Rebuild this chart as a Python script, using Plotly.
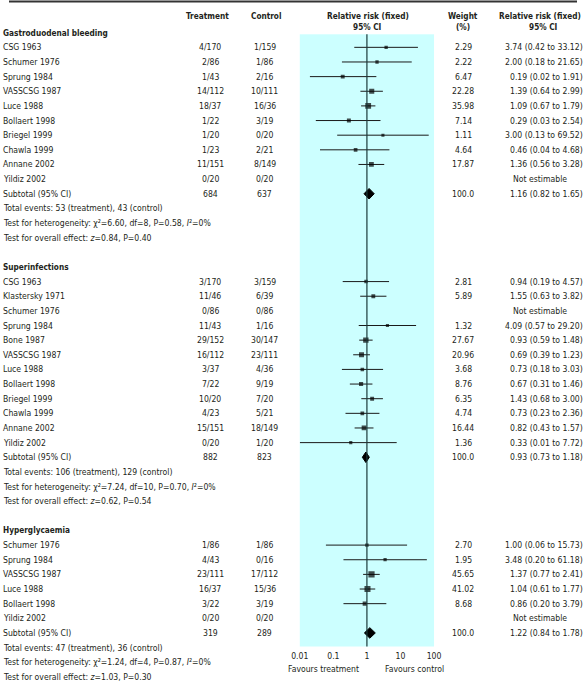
import plotly.graph_objects as go
import math

# ---------------- data ----------------
sections = ["Gastroduodenal bleeding", "Superinfections", "Hyperglycaemia"]

g_studies = ["CSG 1963", "Schumer 1976", "Sprung 1984", "VASSCSG 1987", "Luce 1988", "Bollaert 1998",
             "Briegel 1999", "Chawla 1999", "Annane 2002", "Yildiz 2002"]
g_treat = ["4/170", "2/86", "1/43", "14/112", "18/37", "1/22", "1/20", "1/23", "11/151", "0/20"]
g_ctrl = ["1/159", "1/86", "2/16", "10/111", "16/36", "3/19", "0/20", "2/21", "8/149", "0/20"]
g_weight = [2.29, 2.22, 6.47, 22.28, 35.98, 7.14, 1.11, 4.64, 17.87, None]
g_rr = [3.74, 2.00, 0.19, 1.39, 1.09, 0.29, 3.00, 0.46, 1.36, None]
g_lo = [0.42, 0.18, 0.02, 0.64, 0.67, 0.03, 0.13, 0.04, 0.56, None]
g_hi = [33.12, 21.65, 1.91, 2.99, 1.79, 2.54, 69.52, 4.68, 3.28, None]
g_sub = {"treat": "684", "ctrl": "637", "weight": "100.0", "rr": 1.16, "lo": 0.82, "hi": 1.65}
g_notes = ["Total events: 53 (treatment), 43 (control)",
           "Test for heterogeneity: χ²=6.60, df=8, P=0.58, <i>I</i>²=0%",
           "Test for overall effect: <i>z</i>=0.84, P=0.40"]

s_studies = ["CSG 1963", "Klastersky 1971", "Schumer 1976", "Sprung 1984", "Bone 1987", "VASSCSG 1987",
             "Luce 1988", "Bollaert 1998", "Briegel 1999", "Chawla 1999", "Annane 2002", "Yildiz 2002"]
s_treat = ["3/170", "11/46", "0/86", "11/43", "29/152", "16/112", "3/37", "7/22", "10/20", "4/23", "15/151", "0/20"]
s_ctrl = ["3/159", "6/39", "0/86", "1/16", "30/147", "23/111", "4/36", "9/19", "7/20", "5/21", "18/149", "1/20"]
s_weight = [2.81, 5.89, None, 1.32, 27.67, 20.96, 3.68, 8.76, 6.35, 4.74, 16.44, 1.36]
s_rr = [0.94, 1.55, None, 4.09, 0.93, 0.69, 0.73, 0.67, 1.43, 0.73, 0.82, 0.33]
s_lo = [0.19, 0.63, None, 0.57, 0.59, 0.39, 0.18, 0.31, 0.68, 0.23, 0.43, 0.01]
s_hi = [4.57, 3.82, None, 29.20, 1.48, 1.23, 3.03, 1.46, 3.00, 2.36, 1.57, 7.72]
s_sub = {"treat": "882", "ctrl": "823", "weight": "100.0", "rr": 0.93, "lo": 0.73, "hi": 1.18}
s_notes = ["Total events: 106 (treatment), 129 (control)",
           "Test for heterogeneity: χ²=7.24, df=10, P=0.70, <i>I</i>²=0%",
           "Test for overall effect: <i>z</i>=0.62, P=0.54"]

h_studies = ["Schumer 1976", "Sprung 1984", "VASSCSG 1987", "Luce 1988", "Bollaert 1998", "Yildiz 2002"]
h_treat = ["1/86", "4/43", "23/111", "16/37", "3/22", "0/20"]
h_ctrl = ["1/86", "0/16", "17/112", "15/36", "3/19", "0/20"]
h_weight = [2.70, 1.95, 45.65, 41.02, 8.68, None]
h_rr = [1.00, 3.48, 1.37, 1.04, 0.86, None]
h_lo = [0.06, 0.20, 0.77, 0.61, 0.20, None]
h_hi = [15.73, 61.18, 2.41, 1.77, 3.79, None]
h_sub = {"treat": "319", "ctrl": "289", "weight": "100.0", "rr": 1.22, "lo": 0.84, "hi": 1.78}
h_notes = ["Total events: 47 (treatment), 36 (control)",
           "Test for heterogeneity: χ²=1.24, df=4, P=0.87, <i>I</i>²=0%",
           "Test for overall effect: <i>z</i>=1.03, P=0.30"]

tick_vals = [0.01, 0.1, 1, 10, 100]
tick_text = ["0.01", "0.1", "1", "10", "100"]

# ---------------- layout constants ----------------
W, H = 584, 684
FONT = "DejaVu Sans Condensed, Liberation Sans Narrow, sans-serif"
TXT = "#231f20"
FS = 8.6
FS_HEAD = 8.2
Y0, DY = 32.7, 14.64           # pixel y of row 0 and row spacing
PANEL_TOP, PANEL_BOT = 34.3, 646.5
PLOT_L, PLOT_R = 299, 437
X_STUDY, X_TREAT, X_CTRL, X_WEIGHT, X_RR_R, X_RR_C = -7, 207, 263, 467, 591, 546


def row_px(r):
    return Y0 + r * DY


def px_to_paper_y(p):
    return 1 - p / H


annotations = []


def txt(text, xpx, r, anchor="center", bold=False, ypx=None, size=FS):
    yy = row_px(r) if ypx is None else ypx
    annotations.append(dict(
        text=("<b>%s</b>" % text) if bold else text,
        x=xpx / W, y=px_to_paper_y(yy), xref="paper", yref="paper",
        xanchor=anchor, yanchor="middle", showarrow=False, borderpad=0,
        font=dict(family=FONT, size=size, color=TXT)))


# headers
txt("Treatment", 204, None, bold=True, ypx=16, size=FS_HEAD)
txt("Control", 264, None, bold=True, ypx=16, size=FS_HEAD)
txt("Relative risk (fixed)", 369, None, bold=True, ypx=16, size=FS_HEAD)
txt("95% CI", 369, None, bold=True, ypx=27, size=FS_HEAD)
txt("Weight", X_WEIGHT, None, bold=True, ypx=16, size=FS_HEAD)
txt("(%)", X_WEIGHT, None, bold=True, ypx=27, size=FS_HEAD)
txt("Relative risk (fixed)", 546, None, bold=True, ypx=16, size=FS_HEAD)
txt("95% CI", 550, None, bold=True, ypx=27, size=FS_HEAD)

groups = [
    (sections[0], g_studies, g_treat, g_ctrl, g_weight, g_rr, g_lo, g_hi, g_sub, g_notes),
    (sections[1], s_studies, s_treat, s_ctrl, s_weight, s_rr, s_lo, s_hi, s_sub, s_notes),
    (sections[2], h_studies, h_treat, h_ctrl, h_weight, h_rr, h_lo, h_hi, h_sub, h_notes),
]

ci_x, ci_y = [], []
pt_x, pt_y, pt_s = [], [], []
diamonds = []

r = 0
for (name, studies, treat, ctrl, weight, rr, lo, hi, sub, notes) in groups:
    txt(name, X_STUDY, r, anchor="left", bold=True, size=FS_HEAD)
    r += 1
    for i, s in enumerate(studies):
        txt(s, X_STUDY, r, anchor="left")
        txt(treat[i], X_TREAT, r)
        txt(ctrl[i], X_CTRL, r)
        if rr[i] is None:
            txt("Not estimable", X_RR_C, r)
        else:
            txt("%.2f" % weight[i], X_WEIGHT, r)
            txt("%.2f (%.2f to %.2f)" % (rr[i], lo[i], hi[i]), X_RR_R, r, anchor="right")
            ci_x += [lo[i], hi[i], None]
            ci_y += [r, r, None]
            pt_x.append(rr[i])
            pt_y.append(r)
            pt_s.append(2.5 + 0.55 * math.sqrt(weight[i]))
        r += 1
    txt("Subtotal (95% CI)", X_STUDY, r, anchor="left")
    txt(sub["treat"], X_TREAT, r)
    txt(sub["ctrl"], X_CTRL, r)
    txt(sub["weight"], X_WEIGHT, r)
    txt("%.2f (%.2f to %.2f)" % (sub["rr"], sub["lo"], sub["hi"]), X_RR_R, r, anchor="right")
    diamonds.append((sub["rr"], sub["lo"], sub["hi"], r))
    r += 1
    for n in notes:
        txt(n, X_STUDY, r, anchor="left")
        r += 1
    r += 1  # blank row

fig = go.Figure()
fig.add_trace(go.Scatter(x=ci_x, y=ci_y, mode="lines", line=dict(color="#1a1a1a", width=1),
                         hoverinfo="skip", showlegend=False))
fig.add_trace(go.Scatter(x=pt_x, y=pt_y, mode="markers",
                         marker=dict(symbol="square", size=pt_s, color="black", line=dict(width=0)),
                         showlegend=False))
HALF = 0.36
for (m, lo_, hi_, rr_row) in diamonds:
    fig.add_trace(go.Scatter(x=[lo_, m, hi_, m, lo_], y=[rr_row, rr_row - HALF, rr_row, rr_row + HALF, rr_row],
                             mode="lines", fill="toself", fillcolor="black",
                             line=dict(color="black", width=1), showlegend=False, hoverinfo="skip"))

# vertical line of no effect
fig.add_shape(type="line", xref="x", yref="y domain", x0=1, x1=1, y0=0, y1=1,
              line=dict(color="#1a3a3a", width=1.2))
# top rule
fig.add_shape(type="line", xref="paper", yref="paper", x0=0, x1=1,
              y0=px_to_paper_y(1.5), y1=px_to_paper_y(1.5), line=dict(color="#333333", width=2))

txt("Favours treatment", 323, None, ypx=669)
txt("Favours control", 417, None, ypx=669)

fig.update_layout(
    width=W, height=H, margin=dict(l=0, r=0, t=0, b=0),
    paper_bgcolor="white", plot_bgcolor="#ccffff",
    annotations=annotations, showlegend=False,
    xaxis=dict(type="log", range=[-2, 2], domain=[PLOT_L / W, PLOT_R / W],
               tickvals=tick_vals, ticktext=tick_text, ticks="", showgrid=False,
               zeroline=False, showline=False, ticklabelstandoff=3,
               tickfont=dict(family=FONT, size=FS, color=TXT), fixedrange=True),
    yaxis=dict(range=[(PANEL_BOT - Y0) / DY, (PANEL_TOP - Y0) / DY],
               domain=[px_to_paper_y(PANEL_BOT), px_to_paper_y(PANEL_TOP)],
               showticklabels=False, ticks="", showgrid=False, zeroline=False,
               showline=False, fixedrange=True),
)

fig.write_html("out.html", config={"displayModeBar": False},
               post_script="document.body.style.margin='0';document.body.style.overflow='hidden';")
